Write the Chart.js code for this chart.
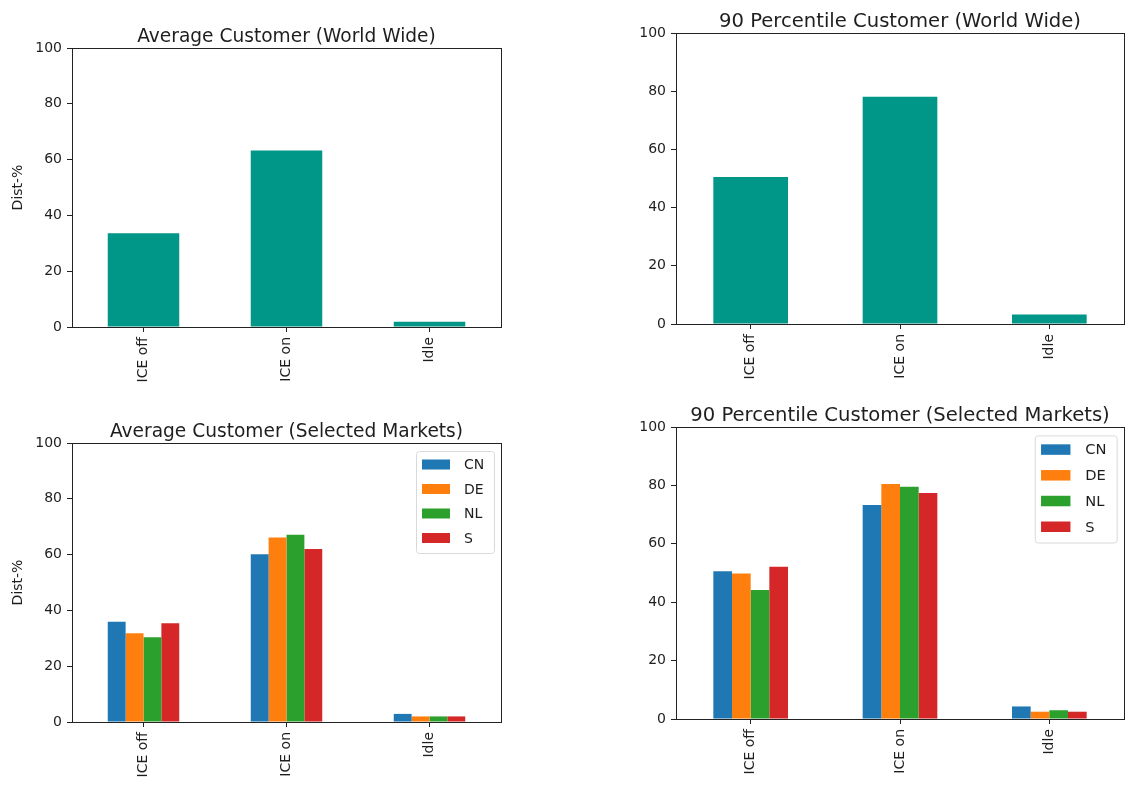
<!DOCTYPE html>
<html>
<head>
<meta charset="utf-8">
<script src="https://cdn.jsdelivr.net/npm/chart.js@4/dist/chart.umd.min.js"></script>
<style>
  body { margin: 0; background: #fff; }
  #page { position: relative; width: 1129px; height: 785px; }
  .cell { position: absolute; }
</style>
</head>
<body>
<div id="page">
  <div class="cell" style="left:0;top:0;width:540px;height:400px"><canvas id="avgWorld"></canvas></div>
  <div class="cell" style="left:560px;top:0;width:569px;height:400px"><canvas id="p90World"></canvas></div>
  <div class="cell" style="left:0;top:400px;width:540px;height:385px"><canvas id="avgMarkets"></canvas></div>
  <div class="cell" style="left:560px;top:400px;width:569px;height:385px"><canvas id="p90Markets"></canvas></div>
</div>
<script>
// driving modes on the x axis, share of distance (%) on y
const modes = ["ICE off", "ICE on", "Idle"];
const yTicks = [0, 20, 40, 60, 80, 100];

const avgWorld = [33.6, 63.3, 1.9];
const p90World = [50.5, 78.1, 3.3];

const markets = ["CN", "DE", "NL", "S"];
const marketColors = ["#1f77b4", "#ff7f0e", "#2ca02c", "#d62728"];

// one array per market: ICE off, ICE on, Idle
const avgCN = [35.9, 60.1, 2.9];
const avgDE = [31.8, 66.1, 2.0];
const avgNL = [30.4, 67.1, 2.0];
const avgS  = [35.4, 62.0, 2.0];

const p90CN = [50.6, 73.3, 4.3];
const p90DE = [49.8, 80.5, 2.5];
const p90NL = [44.2, 79.5, 3.0];
const p90S  = [52.1, 77.4, 2.5];

const teal = "#009688";
const ink = "#1e1e1e";
const FONT = "'DejaVu Sans', sans-serif";

// box around the plot area, like matplotlib spines
const framePlugin = {
  id: "frame",
  afterDraw(chart) {
    const a = chart.chartArea;
    const ctx = chart.ctx;
    ctx.save();
    ctx.strokeStyle = "#222";
    ctx.lineWidth = 1;
    ctx.strokeRect(Math.round(a.left) + 0.5, Math.round(a.top) + 0.5,
                   Math.round(a.right - a.left), Math.round(a.bottom - a.top));
    ctx.restore();
  }
};

// title sitting just above the plot area
const topTitlePlugin = {
  id: "topTitle",
  afterDraw(chart, args, opts) {
    if (!opts.text) return;
    const a = chart.chartArea;
    const ctx = chart.ctx;
    ctx.save();
    ctx.font = opts.size + "px " + FONT;
    ctx.fillStyle = ink;
    ctx.textAlign = "center";
    ctx.textBaseline = "alphabetic";
    ctx.fillText(opts.text, (a.left + a.right) / 2, a.top - opts.gap);
    ctx.restore();
  }
};

// boxed legend in the upper right corner of the plot area
const boxLegendPlugin = {
  id: "boxLegend",
  afterDraw(chart, args, opts) {
    if (!opts.show) return;
    const s = opts.scale || 1;
    const a = chart.chartArea;
    const ctx = chart.ctx;
    const sets = chart.data.datasets;
    const fs = 14 * s;
    const w = 78 * s, rowH = 24.5 * s;
    const h = rowH * sets.length + 4 * s;
    const x0 = a.right - 7 * s - w;
    const y0 = a.top + 8 * s;
    ctx.save();
    ctx.beginPath();
    ctx.roundRect(x0 + 0.5, y0 + 0.5, w, h, 3);
    ctx.fillStyle = "rgba(255,255,255,0.8)";
    ctx.fill();
    ctx.strokeStyle = "#d9d9d9";
    ctx.lineWidth = 1;
    ctx.stroke();
    ctx.font = fs + "px " + FONT;
    ctx.textBaseline = "middle";
    ctx.textAlign = "left";
    sets.forEach((ds, i) => {
      const cy = y0 + 13.5 * s + i * rowH;
      ctx.fillStyle = ds.backgroundColor;
      ctx.fillRect(x0 + 6 * s, cy - 5 * s, 28 * s, 10 * s);
      ctx.fillStyle = ink;
      ctx.fillText(ds.label, x0 + 48 * s, cy + 1);
    });
    ctx.restore();
  }
};

function makeChart(id, datasets, cfg) {
  return new Chart(document.getElementById(id), {
    type: "bar",
    data: { labels: modes, datasets: datasets },
    plugins: [framePlugin, topTitlePlugin, boxLegendPlugin],
    options: {
      responsive: true,
      maintainAspectRatio: false,
      animation: false,
      layout: { padding: cfg.padding },
      datasets: { bar: { categoryPercentage: 0.5, barPercentage: 1.0 } },
      plugins: {
        legend: { display: false },
        title: { display: false },
        tooltip: { enabled: false },
        topTitle: { text: cfg.title, size: cfg.titleSize, gap: cfg.titleGap },
        boxLegend: { show: datasets.length > 1, scale: cfg.legendScale }
      },
      scales: {
        x: {
          offset: true,
          grid: { display: true, offset: false, drawOnChartArea: false, drawTicks: true, tickLength: 5, color: "#222" },
          border: { display: false },
          ticks: { color: ink, font: { family: FONT, size: 14 }, minRotation: 90, maxRotation: 90, padding: 5, autoSkip: false },
          afterFit(scale) {
            scale.height = cfg.xHeight;
            scale.paddingLeft = 0; scale.paddingRight = 0;
          }
        },
        y: {
          min: 0, max: 100,
          afterBuildTicks(scale) { scale.ticks = yTicks.map(v => ({ value: v })); },
          grid: { display: true, drawOnChartArea: false, drawTicks: true, tickLength: 5, color: "#222" },
          border: { display: false },
          ticks: { color: ink, font: { family: FONT, size: 14 }, padding: 5 },
          title: { display: !!cfg.yTitle, text: cfg.yTitle, color: ink, font: { family: FONT, size: 14 }, padding: { top: 4, bottom: 4 } },
          afterFit(scale) {
            scale.width = cfg.yWidth;
            scale.paddingTop = 0; scale.paddingBottom = 0;
          }
        }
      }
    }
  });
}

function marketSets(values) {
  return markets.map((m, i) => ({
    label: m,
    data: values[i],
    backgroundColor: marketColors[i],
    borderWidth: 0
  }));
}

makeChart("avgWorld",
  [{ label: "Dist-%", data: avgWorld, backgroundColor: teal, borderWidth: 0 }],
  { title: "Average Customer (World Wide)", titleSize: 18.6, titleGap: 6, yTitle: "Dist-%",
    padding: { top: 48, left: 6, right: 39, bottom: 0 }, yWidth: 66, xHeight: 73, legendScale: 1 });

makeChart("p90World",
  [{ label: "Dist-%", data: p90World, backgroundColor: teal, borderWidth: 0 }],
  { title: "90 Percentile Customer (World Wide)", titleSize: 19.6, titleGap: 6, yTitle: "",
    padding: { top: 33, left: 50, right: 5, bottom: 0 }, yWidth: 66, xHeight: 76, legendScale: 1.05 });

makeChart("avgMarkets", marketSets([avgCN, avgDE, avgNL, avgS]),
  { title: "Average Customer (Selected Markets)", titleSize: 18.6, titleGap: 6, yTitle: "Dist-%",
    padding: { top: 43, left: 6, right: 39, bottom: 0 }, yWidth: 66, xHeight: 63, legendScale: 1 });

makeChart("p90Markets", marketSets([p90CN, p90DE, p90NL, p90S]),
  { title: "90 Percentile Customer (Selected Markets)", titleSize: 19.6, titleGap: 6, yTitle: "",
    padding: { top: 27, left: 50, right: 5, bottom: 0 }, yWidth: 66, xHeight: 66, legendScale: 1.05 });
</script>
</body>
</html>
